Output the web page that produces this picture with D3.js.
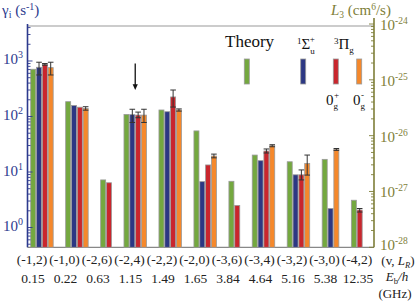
<!DOCTYPE html>
<html><head><meta charset="utf-8">
<script src="https://cdn.jsdelivr.net/npm/d3@7"></script>
<style>body{margin:0;background:#fff} svg{display:block} text{font-family:"Liberation Serif","Times New Roman",serif}</style>
</head><body><svg id="c" width="415" height="303"></svg>
<script>
// ---- data ----
const groups = ["(-1,2)","(-1,0)","(-2,6)","(-2,4)","(-2,2)","(-2,0)","(-3,6)","(-3,4)","(-3,2)","(-3,0)","(-4,2)"];
const energies = ["0.15","0.22","0.63","1.15","1.49","1.65","3.84","4.64","5.16","5.38","12.35"];
const seriesNames = ["Theory","1Σu+","3Πg 0g+","3Πg 0g-"];
const theory   = [710, 185, 7.2, 109, 131, 55, 6.8, 20.2, 15.3, 16.9, 3.1];
const sigma    = [770, 158, null, 108, 122, 6.7, null, 16, 8.9, 2.2, null];
const pi0plus  = [870, 147, 6.4, 106, 225, 13.4, 2.5, 23.9, 8.9, null, 2.07];
const pi0minus = [760, 140, null, 106, 131, 19.4, null, 29.8, 14.3, 25.6, null];
const theoryErr   = [null,null,null,null,null,null,null,null,null,null,null];
const sigmaErr    = [[560,950],null,null,[78,135],null,null,null,null,null,null,null];
const pi0plusErr  = [[840,900],null,null,[95,120],[148,300],null,null,[22,26],[7.2,10.9],null,[1.9,2.2]];
const pi0minusErr = [[560,950],[130,150],null,[78,135],[125,137],[18,21],null,[28.5,31],[8.8,20.2],[24.5,26.5],null];
const leftTicks = [1,10,100,1000];
const leftTickExp = ["0","1","2","3"];
const rightTicks = [1e-28,1e-27,1e-26,1e-25,1e-24];
const rightTickExp = ["-28","-27","-26","-25","-24"];

const colors = ["#74a83f","#2c3783","#c9262d","#f5882b"];
const navy = "#2d3a8e", olive = "#7e7e38";
const values = [theory, sigma, pi0plus, pi0minus];
const errs = [theoryErr, sigmaErr, pi0plusErr, pi0minusErr];

const svg = d3.select("#c");
const X0 = 27.5, X1 = 374, YT = 26, YB = 247.3;

// bar layout: sequential slots, 2 empty slots between groups
const bars = [];
let slot = 0;
groups.forEach((g, gi) => {
  let n = 0;
  values.forEach((arr, si) => {
    if (arr[gi] != null) { bars.push({g: gi, s: si, v: arr[gi], e: errs[si][gi], slot: slot + n}); n++; }
  });
  slot += n + 2;
});
const totalSlots = slot - 2;
const x = d3.scaleLinear().domain([0, totalSlots]).range([30.7, 30.7 + totalSlots * 5.83]);
const bw = 5.0;
const y = d3.scaleLog().domain([0.44, 4270]).range([YB, YT]);
const yR = d3.scaleLog().domain([1e-28, 1e-24]).range([YB, 24]);

// frame lines
svg.append("line").attr("x1", X0).attr("x2", X1).attr("y1", YT).attr("y2", YT).attr("stroke", "#999").attr("stroke-width", 1);
svg.append("line").attr("x1", X0).attr("x2", X1).attr("y1", YB).attr("y2", YB).attr("stroke", "#888").attr("stroke-width", 1.2);

// bars
svg.append("g").selectAll("rect").data(bars).join("rect")
  .attr("x", d => x(d.slot)).attr("width", bw)
  .attr("y", d => y(d.v)).attr("height", d => YB - y(d.v))
  .attr("fill", d => colors[d.s]).attr("stroke", "#9a9a9a").attr("stroke-width", 0.8);

// error bars
const eg = svg.append("g").attr("stroke", "#333").attr("stroke-width", 1);
bars.filter(d => d.e).forEach(d => {
  const cx = x(d.slot) + bw / 2;
  eg.append("line").attr("x1", cx).attr("x2", cx).attr("y1", y(d.e[1])).attr("y2", y(d.e[0]));
  eg.append("line").attr("x1", cx - 2.8).attr("x2", cx + 2.8).attr("y1", y(d.e[1])).attr("y2", y(d.e[1]));
  eg.append("line").attr("x1", cx - 2.8).attr("x2", cx + 2.8).attr("y1", y(d.e[0])).attr("y2", y(d.e[0]));
});

// left axis
const la = svg.append("g");
la.append("line").attr("x1", X0).attr("x2", X0).attr("y1", 24).attr("y2", YB).attr("stroke", navy).attr("stroke-width", 1.6);
const minorL = [];
for (let p = -1; p <= 3; p++) for (let k = 1; k <= 9; k++) { const v = k * Math.pow(10, p); if (v >= 0.44 && v <= 4270) minorL.push({v: v, major: k === 1}); }
la.selectAll("line.t").data(minorL).join("line").attr("class", "t")
  .attr("x1", X0).attr("x2", d => X0 + (d.major ? 5 : 3))
  .attr("y1", d => y(d.v)).attr("y2", d => y(d.v)).attr("stroke", navy).attr("stroke-width", 0.9);
const llab = la.selectAll("text").data(leftTicks).join("text")
  .attr("x", 3).attr("y", d => y(d) + 3.5).attr("fill", navy).attr("font-size", 15);
llab.append("tspan").text("10");
llab.append("tspan").attr("dy", -6).attr("font-size", 10).text((d, i) => leftTickExp[i]);

// right axis
const ra = svg.append("g");
ra.append("line").attr("x1", X1).attr("x2", X1).attr("y1", 18).attr("y2", YB).attr("stroke", olive).attr("stroke-width", 1.6);
const minorR = [];
for (let p = -28; p < -24; p++) for (let k = 1; k <= 9; k++) minorR.push({v: k * Math.pow(10, p), major: k === 1});
minorR.push({v: 1e-24, major: true});
ra.selectAll("line.t").data(minorR).join("line").attr("class", "t")
  .attr("x1", X1).attr("x2", d => X1 - (d.major ? 5 : 3))
  .attr("y1", d => yR(d.v)).attr("y2", d => yR(d.v)).attr("stroke", olive).attr("stroke-width", 0.9);
const rlab = ra.selectAll("text").data(rightTicks).join("text")
  .attr("x", 380).attr("y", (d, i) => yR(d) + (i === 0 ? 3 : 6)).attr("fill", olive).attr("font-size", 15);
rlab.append("tspan").text("10");
rlab.append("tspan").attr("dy", -6).attr("font-size", 9.5).text((d, i) => rightTickExp[i]);

// titles
const t1 = svg.append("text").attr("x", 2).attr("y", 15).attr("fill", navy).attr("font-size", 15);
t1.append("tspan").text("γ");
t1.append("tspan").attr("dy", 3).attr("font-size", 10).text("i");
t1.append("tspan").attr("dy", -3).text(" (s");
t1.append("tspan").attr("dy", -5).attr("font-size", 10).text("-1");
t1.append("tspan").attr("dy", 5).text(")");
const t2 = svg.append("text").attr("x", 331).attr("y", 15).attr("fill", olive).attr("font-size", 15);
t2.append("tspan").attr("font-style", "italic").text("L");
t2.append("tspan").attr("dy", 2.5).attr("font-size", 9.5).text("3");
t2.append("tspan").attr("dy", -2.5).text(" (cm");
t2.append("tspan").attr("dy", -5).attr("font-size", 9.5).text("6");
t2.append("tspan").attr("dy", 5).text("/s)");

// x labels
const xl = d3.scalePoint().domain(groups).range([32, 357]);
svg.append("g").selectAll("text").data(groups).join("text")
  .attr("x", d => xl(d)).attr("y", 264).attr("text-anchor", "middle").attr("font-size", 13.5).attr("fill", "#222").text(d => d);
svg.append("g").selectAll("text").data(energies).join("text")
  .attr("x", (d, i) => xl(groups[i]) + 1).attr("y", 283).attr("text-anchor", "middle").attr("font-size", 13.5).attr("fill", "#222").text(d => d);
const r1 = svg.append("text").attr("x", 398).attr("y", 265).attr("text-anchor", "middle").attr("font-size", 13).attr("fill", "#222");
r1.append("tspan").text("(v, ");
r1.append("tspan").attr("font-style", "italic").text("L");
r1.append("tspan").attr("dy", 2.5).attr("font-size", 8.5).attr("font-style", "italic").text("R");
r1.append("tspan").attr("dy", -2.5).text(")");
const r2 = svg.append("text").attr("x", 397).attr("y", 281).attr("text-anchor", "middle").attr("font-size", 13).attr("fill", "#222");
r2.append("tspan").attr("font-style", "italic").text("E");
r2.append("tspan").attr("dy", 2.5).attr("font-size", 8.5).text("b");
r2.append("tspan").attr("dy", -2.5).attr("font-style", "italic").text("/h");
svg.append("text").attr("x", 395).attr("y", 298).attr("text-anchor", "middle").attr("font-size", 13).attr("fill", "#222").text("(GHz)");

// legend
const legX = [244.3, 300.7, 333.3, 356.7];
svg.append("g").selectAll("rect").data(seriesNames).join("rect")
  .attr("x", (d, i) => legX[i]).attr("y", 59).attr("width", 5).attr("height", 25)
  .attr("fill", (d, i) => colors[i]).attr("stroke", "#9a9a9a").attr("stroke-width", 0.8);
svg.append("text").attr("x", 225).attr("y", 47).attr("font-size", 17).attr("fill", "#111").text("Theory");
const ls = svg.append("text").attr("x", 297).attr("y", 49).attr("font-size", 15).attr("fill", "#111");
ls.append("tspan").attr("dy", -5).attr("font-size", 9).text("1");
ls.append("tspan").attr("dy", 5).text("Σ");
ls.append("tspan").attr("dy", 5).attr("font-size", 9).text("u");
ls.append("tspan").attr("dx", -5).attr("dy", -12).attr("font-size", 9).text("+");
const lp = svg.append("text").attr("x", 334).attr("y", 49).attr("font-size", 15).attr("fill", "#111");
lp.append("tspan").attr("dy", -5).attr("font-size", 9).text("3");
lp.append("tspan").attr("dy", 5).text("Π");
lp.append("tspan").attr("dy", 4).attr("font-size", 9).text("g");
[[326, "+"], [353, "-"]].forEach(([lx, sg]) => {
  const t = svg.append("text").attr("x", lx).attr("y", 105).attr("font-size", 15).attr("fill", "#111");
  t.append("tspan").text("0");
  t.append("tspan").attr("dy", 4).attr("font-size", 9).text("g");
  t.append("tspan").attr("dx", -4).attr("dy", -11).attr("font-size", 9).text(sg);
});

// arrow over (-2,4)
const ab = bars.filter(d => d.g === 3);
const ax = (x(ab[0].slot) + x(ab[ab.length - 1].slot) + bw) / 2;
svg.append("line").attr("x1", ax).attr("x2", ax).attr("y1", y(900)).attr("y2", y(360)).attr("stroke", "#111").attr("stroke-width", 1.3);
svg.append("path").attr("d", `M${ax - 2.6},${y(380)} L${ax + 2.6},${y(380)} L${ax},${y(300)} Z`).attr("fill", "#111");
</script></body></html>
